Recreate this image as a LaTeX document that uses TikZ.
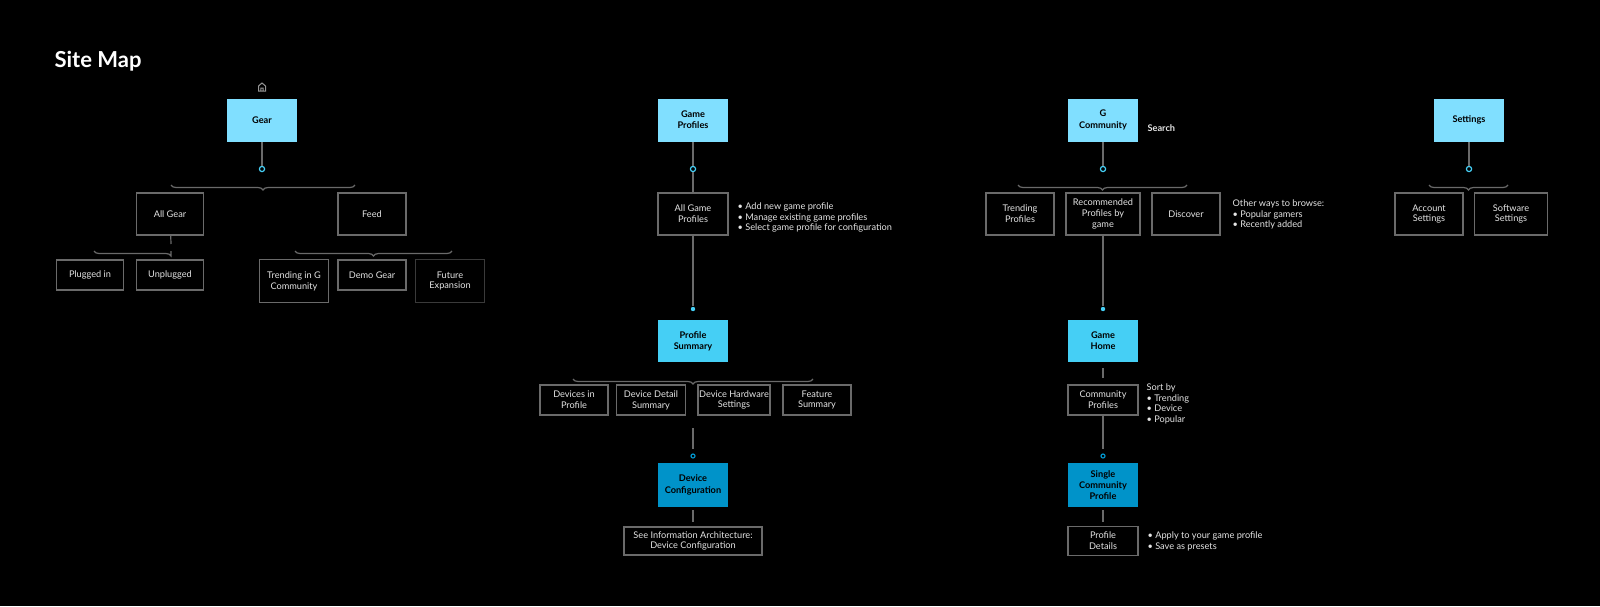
\documentclass[tikz,border=0pt]{standalone}
\usepackage{fontspec}
\setmainfont{Lato}
\usetikzlibrary{decorations.pathreplacing}
\definecolor{lightcyan}{HTML}{80DFFF}
\definecolor{midcyan}{HTML}{45CFF5}
\definecolor{deepcyan}{HTML}{0093C9}
\definecolor{edgegray}{HTML}{6A6A6A}
\definecolor{inkwhite}{HTML}{E4E4E4}
\tikzset{
  every picture/.style={line width=0.6pt},
  page/.style={draw=edgegray, text=inkwhite, align=center, font=\fontsize{4.6}{5.4}\selectfont, inner sep=0pt},
  top/.style={fill=lightcyan, text=black, align=center, font=\bfseries\fontsize{4.6}{5.6}\selectfont, inner sep=0pt},
  note/.style={text=inkwhite, align=left, anchor=north west, font=\fontsize{4.6}{5.4}\selectfont, inner sep=0pt},
  link/.style={draw=edgegray},
  ring/.style={circle, draw=#1, line width=0.6pt, inner sep=0pt, minimum size=2.6pt},
  blip/.style={circle, fill=#1, inner sep=0pt, minimum size=2.2pt},
  bracket/.style={draw=edgegray, decorate, decoration={brace, mirror, amplitude=2.5pt, #1}},
  bracket/.default={aspect=0.5}
}
\begin{document}
\begin{tikzpicture}[x=0.5pt,y=-0.5pt]
\fill[black] (0,0) rectangle (1600,606);
\useasboundingbox (0,0) rectangle (1600,606);

% title and home mark
\node[anchor=west, text=white, font=\bfseries\fontsize{11}{13}\selectfont, inner sep=0pt] (title) at (54,61) {Site Map};
\draw[edgegray!70!white, line width=0.5pt] (258.5,91) -- (258.5,86) -- (262,83) -- (265.5,86) -- (265.5,91) -- cycle (260.8,91) -- (260.8,88) -- (263.2,88) -- (263.2,91);

% Gear
\node[top, minimum width=35pt, minimum height=21.5pt] (gear) at (262,120) {Gear};
\node[ring=midcyan] (geardot) at (262,169) {};
\draw[link] (gear) -- (geardot);
\draw[bracket] (171,185) -- (355,185);
\node[page, minimum width=33.5pt, minimum height=21pt] (allgear) at (170,214) {All Gear};
\node[page, minimum width=34pt, minimum height=21pt] (feed) at (372,214) {Feed};
\draw[bracket={aspect=1}] (94,251) -- (171,251);
\draw[link] (allgear) -- (171,244);
\node[page, minimum width=33.5pt, minimum height=15pt] (plugged) at (90,275) {Plugged in};
\node[page, minimum width=33.5pt, minimum height=15pt] (unplugged) at (170,275) {Unplugged};
\draw[bracket] (295,251) -- (452,251);
\node[page, minimum width=34.5pt, minimum height=21.5pt] (trendg) at (294,281) {Trending in G\\Community};
\node[page, minimum width=34pt, minimum height=15pt] (demo) at (372,275) {Demo Gear};
\node[page, draw=edgegray!55!black, minimum width=34.5pt, minimum height=21.5pt] (future) at (450,281) {Future\\Expansion};

% Game Profiles
\node[top, minimum width=35pt, minimum height=21.5pt] (games) at (693,120) {Game\\Profiles};
\node[ring=midcyan] (gamesdot) at (693,169) {};
\draw[link] (games) -- (gamesdot);
\node[page, minimum width=35pt, minimum height=21pt] (allgames) at (693,214) {All Game\\Profiles};
\draw[link] (gamesdot) -- (allgames);
\node[note] (gamesnote) at (737,202) {• Add new game profile\\• Manage existing game profiles\\• Select game profile for configuration};
\node[blip=midcyan] (sumdot) at (693,309) {};
\draw[link] (allgames) -- (sumdot);
\node[top, fill=midcyan, minimum width=35pt, minimum height=21pt] (summary) at (693,341) {Profile\\Summary};
\draw[bracket] (573,379) -- (813,379);
\node[page, minimum width=34pt, minimum height=15pt] (devices) at (574,400) {Devices in\\Profile};
\node[page, minimum width=34.5pt, minimum height=15pt] (detail) at (651,400) {Device Detail\\Summary};
\node[page, minimum width=36pt, minimum height=15pt] (hardware) at (734,400) {Device Hardware\\Settings};
\node[page, minimum width=34pt, minimum height=15pt] (feature) at (817,400) {Feature\\Summary};
\node[ring=deepcyan, minimum size=2pt] (confdot) at (693,456) {};
\draw[link] (693,428) -- (693,449);
\node[top, fill=deepcyan, minimum width=35pt, minimum height=22pt] (config) at (693,485) {Device\\Configuration};
\node[page, minimum width=69pt, minimum height=14pt] (seeia) at (693,541) {See Information Architecture:\\Device Configuration};
\draw[link] (693,510) -- (693,522);

% G Community
\node[top, minimum width=35pt, minimum height=21.5pt] (gcomm) at (1103,120) {G\\Community};
\node[anchor=west, text=inkwhite, font=\bfseries\fontsize{4.6}{5.6}\selectfont, inner sep=0pt] (search) at (1147,128) {Search};
\node[ring=midcyan] (gcommdot) at (1103,169) {};
\draw[link] (gcomm) -- (gcommdot);
\draw[bracket] (1018,185) -- (1187,185);
\node[page, minimum width=34pt, minimum height=21pt] (trendp) at (1020,214) {Trending\\Profiles};
\node[page, minimum width=37pt, minimum height=21pt] (recom) at (1103,214) {Recommended\\Profiles by\\game};
\node[page, minimum width=34pt, minimum height=21pt] (discover) at (1186,214) {Discover};
\node[note] (browse) at (1232,199) {Other ways to browse:\\• Popular gamers\\• Recently added};
\node[blip=midcyan] (homedot) at (1103,309) {};
\draw[link] (recom) -- (homedot);
\node[top, fill=midcyan, minimum width=35pt, minimum height=21pt] (ghome) at (1103,341) {Game\\Home};
\node[page, minimum width=35pt, minimum height=15pt] (cprof) at (1103,400) {Community\\Profiles};
\draw[link] (1103,368) -- (1103,378);
\node[note] (sortby) at (1146,383) {Sort by\\• Trending\\• Device\\• Popular};
\node[ring=deepcyan, minimum size=2pt] (singledot) at (1103,456) {};
\draw[link] (cprof) -- (1103,449);
\node[top, fill=deepcyan, minimum width=35pt, minimum height=22pt] (single) at (1103,485) {Single\\Community\\Profile};
\node[page, minimum width=35pt, minimum height=14.5pt] (pdetails) at (1103,541) {Profile\\Details};
\draw[link] (1103,510) -- (1103,522);
\node[note] (applynote) at (1147,531) {• Apply to your game profile\\• Save as presets};

% Settings
\node[top, minimum width=35pt, minimum height=21.5pt] (settings) at (1469,120) {Settings};
\node[ring=midcyan] (setdot) at (1469,169) {};
\draw[link] (settings) -- (setdot);
\draw[bracket] (1429,185) -- (1508,185);
\node[page, minimum width=34pt, minimum height=21pt] (account) at (1429,214) {Account\\Settings};
\node[page, minimum width=36.5pt, minimum height=21pt] (software) at (1511,214) {Software\\Settings};
\end{tikzpicture}
\end{document}
